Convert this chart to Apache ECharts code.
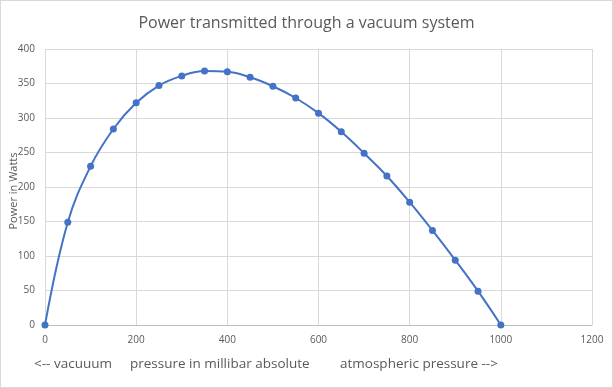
<!DOCTYPE html>
<html><head><meta charset="utf-8">
<script src="https://cdn.jsdelivr.net/npm/echarts@6/dist/echarts.min.js"></script>
<style>html,body{margin:0;padding:0;background:#fff}#c{width:613px;height:388px;box-sizing:border-box;border:1px solid #d9d9d9}</style>
</head><body><div id="c"></div>
<script>
const pressure = [0,50,100,150,200,250,300,350,400,450,500,550,600,650,700,750,800,850,900,950,1000];
const power = [0,149,230,284,322,347,361,368,367,359,346,329,307,280,249,216,178,137,94,49,0];
const titleText = 'Power transmitted through a vacuum system';
const yName = 'Power in Watts';
const xNotes = ['<-- vacuuum', 'pressure in millibar absolute', 'atmospheric pressure -->'];
const font = '"Open Sans", "Noto Sans", sans-serif';
const chart = echarts.init(document.getElementById('c'));
chart.setOption({
  animation:false,
  title:{text:titleText,left:'center',top:9,textStyle:{fontFamily:font,fontSize:16,fontWeight:'normal',color:'#595959'}},
  grid:{left:44,right:20,top:48,bottom:62,containLabel:false,outerBoundsMode:'none'},
  xAxis:{type:'value',min:0,max:1200,interval:200,
    axisLine:{show:true,onZero:true,lineStyle:{color:'#bfbfbf'}},axisTick:{show:false},
    splitLine:{lineStyle:{color:'#d9d9d9'}},
    axisLabel:{color:'#595959',fontFamily:font,fontSize:10,margin:10,formatter:v=>String(v)}},
  yAxis:{type:'value',min:0,max:400,interval:50,
    axisLine:{show:false},axisTick:{show:false},
    splitLine:{lineStyle:{color:'#d9d9d9'}},
    axisLabel:{color:'#595959',fontFamily:font,fontSize:10,margin:10,formatter:v=>String(v)}},
  graphic:[
    {type:'text',x:13,y:190,rotation:Math.PI/2,style:{text:yName,fill:'#595959',font:'11px '+font,textAlign:'center',textVerticalAlign:'middle'}},
    {type:'text',left:33,top:356,style:{text:xNotes[0],fill:'#595959',font:'13.5px '+font}},
    {type:'text',left:129,top:356,style:{text:xNotes[1],fill:'#595959',font:'13.5px '+font}},
    {type:'text',left:339,top:356,style:{text:xNotes[2],fill:'#595959',font:'13.5px '+font}}
  ],
  series:[{type:'line',data:pressure.map((p,i)=>[p,power[i]]),smooth:0.4,
    symbol:'circle',symbolSize:7,lineStyle:{color:'#4472C4',width:2},itemStyle:{color:'#4472C4'}}]
});
</script></body></html>
